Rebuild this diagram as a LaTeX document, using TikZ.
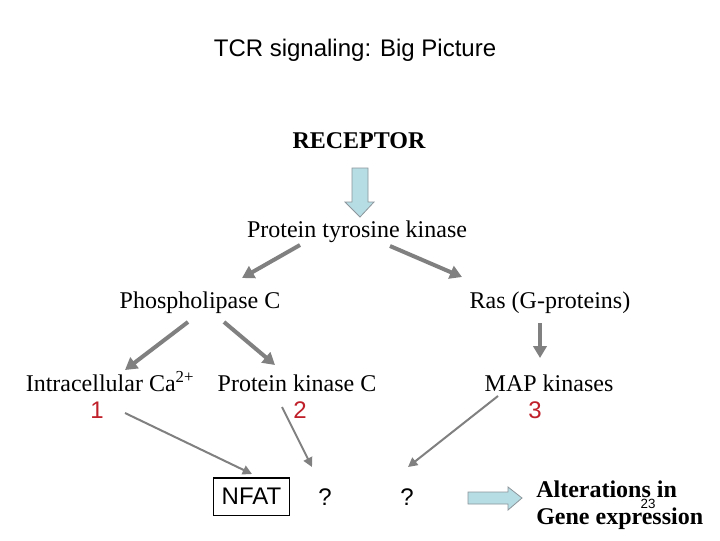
\documentclass[tikz,border=0pt]{standalone}
\usepackage{fontspec}
\setmainfont{Liberation Serif}
\setsansfont{Liberation Sans}
\usetikzlibrary{arrows.meta}
\definecolor{arrgray}{RGB}{128,128,128}
\definecolor{blockblue}{RGB}{183,221,228}
\definecolor{blockedge}{RGB}{140,150,155}
\definecolor{numred}{RGB}{192,32,42}
\begin{document}
\begin{tikzpicture}[x=0.75pt,y=-0.75pt,
  lbl/.style={inner sep=0pt, anchor=base, font=\fontsize{18}{21}\selectfont},
  boldlbl/.style={lbl, font=\bfseries\fontsize{18}{21}\selectfont},
  sanslbl/.style={inner sep=0pt, anchor=base, font=\sffamily\fontsize{18}{21}\selectfont},
  numlbl/.style={sanslbl, text=numred},
  thickarrow/.style={draw=arrgray, line width=3pt, -{Triangle[length=9pt,width=10pt]}},
  thinarrow/.style={draw=arrgray, line width=1.5pt, -{Triangle[length=7pt,width=7pt]}},
  blockarrow/.style={fill=blockblue, draw=blockedge, line width=0.6pt}
]
\useasboundingbox (0,0) rectangle (720,540);
\fill[white] (0,0) rectangle (720,540);

% texts
\node[sanslbl] (title) at (355,56) {TCR signaling: Big Picture};
\node[boldlbl] (receptor) at (359,148) {RECEPTOR};
\node[lbl] (ptk) at (357,237) {Protein tyrosine kinase};
\node[lbl] (plc) at (200,308) {Phospholipase C};
\node[lbl] (ras) at (550,308) {Ras (G-proteins)};
\node[lbl] (ca) at (110,391) {Intracellular Ca\textsuperscript{2+}};
\node[lbl] (pkc) at (297,391) {Protein kinase C};
\node[lbl] (map) at (549,391) {MAP kinases};
\node[numlbl] (n1) at (97,418) {1};
\node[numlbl] (n2) at (300,418) {2};
\node[numlbl] (n3) at (535,418) {3};
\node[draw=black, line width=1pt, inner xsep=6pt, minimum height=28pt,
      font=\sffamily\fontsize{18}{21}\selectfont] (nfat) at (251.5,496.5) {NFAT};
\node[sanslbl] (q1) at (325,505) {?};
\node[sanslbl] (q2) at (407,505) {?};
\node[boldlbl, anchor=base west] (alt) at (536,497) {Alterations in};
\node[boldlbl, anchor=base west] (gene) at (536,524) {Gene expression};
\node[inner sep=0pt, anchor=base, font=\sffamily\fontsize{10}{12}\selectfont] (page) at (648,508) {23};

% block arrows
\draw[blockarrow] (352,168) -- (368,168) -- (368,202) -- (374,202) -- (360,217)
  -- (345,202) -- (352,202) -- cycle;
\draw[blockarrow] (468,492) -- (508,492) -- (508,487) -- (522,498) -- (508,510)
  -- (508,504) -- (468,504) -- cycle;

% connector end points
\coordinate (a1s) at (300,245); \coordinate (a1e) at (242,278);
\coordinate (a2s) at (390,246); \coordinate (a2e) at (462,277);
\coordinate (a3s) at (188,322); \coordinate (a3e) at (125,370);
\coordinate (a4s) at (224,322); \coordinate (a4e) at (275,365);
\coordinate (a5s) at (540,323); \coordinate (a5e) at (540,358);
\coordinate (b1s) at (125,413); \coordinate (b1e) at (252,474);
\coordinate (b2s) at (282,407); \coordinate (b2e) at (312,467);
\coordinate (b3s) at (498,396); \coordinate (b3e) at (408,467);

\draw[thickarrow] (a1s) -- (a1e);
\draw[thickarrow] (a2s) -- (a2e);
\draw[thickarrow] (a3s) -- (a3e);
\draw[thickarrow] (a4s) -- (a4e);
\draw[thickarrow] (a5s) -- (a5e);
\draw[thinarrow] (b1s) -- (b1e);
\draw[thinarrow] (b2s) -- (b2e);
\draw[thinarrow] (b3s) -- (b3e);
\end{tikzpicture}
\end{document}
